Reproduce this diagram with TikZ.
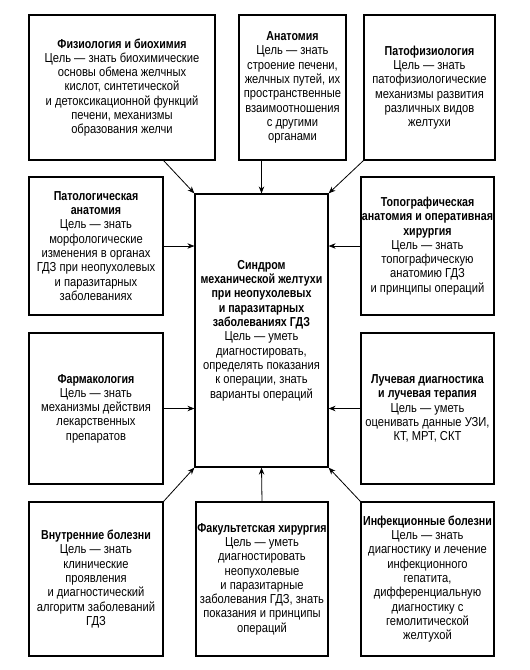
\documentclass[tikz,border=0pt]{standalone}
\usepackage{fontspec}
\setmainfont{Liberation Sans}[FakeStretch=0.86,BoldFeatures={FakeStretch=0.82}]
\usepackage{tikz}
\usetikzlibrary{arrows.meta,positioning,calc}
\tikzset{
  box/.style={draw=black,line width=1.2pt,align=center,inner sep=0pt,
    font=\fontsize{13}{14.3}\selectfont},
  arr/.style={-{Stealth[length=7pt,width=5.5pt]},draw=black,line width=0.8pt},
}
\newcommand{\ttl}[1]{\textbf{#1}}

\begin{document}
\begin{tikzpicture}[x=1pt,y=-1pt]
  \useasboundingbox (0,0) rectangle (530,670);
  % top row
  \node[box,minimum width=186pt,minimum height=145pt] (fiz) at (122,87.5)
    {\ttl{Физиология и биохимия}\\Цель — знать биохимические\\основы обмена желчных\\кислот, синтетической\\и детоксикационной функций\\печени, механизмы\\образования желчи};
  \node[box,minimum width=107pt,minimum height=145pt] (anat) at (292.5,87.5)
    {\ttl{Анатомия}\\Цель — знать\\строение печени,\\желчных путей, их\\пространственные\\взаимоотношения\\с другими\\органами};
  \node[box,minimum width=131pt,minimum height=145pt] (patfiz) at (429.5,87.5)
    {\ttl{Патофизиология}\\Цель — знать\\патофизиологические\\механизмы развития\\различных видов\\желтухи};
  % middle
  \node[box,minimum width=133pt,minimum height=273pt] (sindr) at (261.5,330.5)
    {\ttl{Синдром}\\\ttl{механической желтухи}\\\ttl{при неопухолевых}\\\ttl{и паразитарных}\\\ttl{заболеваниях ГДЗ}\\Цель — уметь\\диагностировать,\\определять показания\\к операции, знать\\варианты операций};
  \node[box,minimum width=134pt,minimum height=138pt] (patanat) at (96,246)
    {\ttl{Патологическая}\\\ttl{анатомия}\\Цель — знать\\морфологические\\изменения в органах\\ГДЗ при неопухолевых\\и паразитарных\\заболеваниях};
  \node[box,minimum width=133pt,minimum height=138pt] (topo) at (427.5,246)
    {\ttl{Топографическая}\\\ttl{анатомия и оперативная}\\\ttl{хирургия}\\Цель — знать\\топографическую\\анатомию ГДЗ\\и принципы операций};
  \node[box,minimum width=134pt,minimum height=151pt] (farm) at (96,408.5)
    {\ttl{Фармакология}\\Цель — знать\\механизмы действия\\лекарственных\\препаратов};
  \node[box,minimum width=133pt,minimum height=151pt] (luch) at (427.5,408.5)
    {\ttl{Лучевая диагностика}\\\ttl{и лучевая терапия}\\Цель — уметь\\оценивать данные УЗИ,\\КТ, МРТ, СКТ};
  % bottom row
  \node[box,minimum width=134pt,minimum height=154pt] (vnutr) at (96,579)
    {\ttl{Внутренние болезни}\\Цель — знать\\клинические\\проявления\\и диагностический\\алгоритм заболеваний\\ГДЗ};
  \node[box,minimum width=132pt,minimum height=154pt] (fak) at (262,579)
    {\ttl{Факультетская хирургия}\\Цель — уметь\\диагностировать\\неопухолевые\\и паразитарные\\заболевания ГДЗ, знать\\показания и принципы\\операций};
  \node[box,minimum width=133pt,minimum height=154pt] (infek) at (427.5,579)
    {\ttl{Инфекционные болезни}\\Цель — знать\\диагностику и лечение\\инфекционного\\гепатита,\\дифференциальную\\диагностику с\\гемолитической\\желтухой};
  % arrows
  \draw[arr] (fiz.south -| patanat.east) -- (sindr.north west);
  \draw[arr] (anat.south -| sindr.north) -- (sindr.north);
  \draw[arr] (patfiz.south west) -- (sindr.north east);
  \foreach \p in {patanat,farm}{\draw[arr] (\p.east) -- (\p.east -| sindr.west);}
  \foreach \p in {topo,luch}{\draw[arr] (\p.west) -- (\p.west -| sindr.east);}
  \draw[arr] (vnutr.north east) -- (sindr.south west);
  \draw[arr] (fak.north) -- (sindr.south);
  \draw[arr] (infek.north west) -- (sindr.south east);
\end{tikzpicture}
\end{document}
